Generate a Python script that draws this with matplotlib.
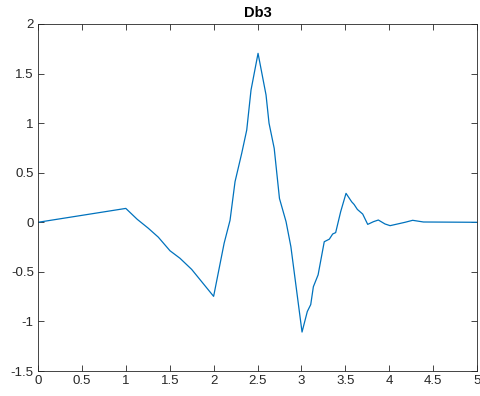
import numpy as np
import matplotlib.pyplot as plt

plt.rcParams['font.family'] = ['Liberation Sans', 'DejaVu Sans']

# db3 wavelet function
x = [0, 1.0, 1.13, 1.256, 1.37, 1.503, 1.617, 1.75, 2.0, 2.12, 2.187, 2.244,
     2.32, 2.377, 2.426, 2.506, 2.597, 2.631, 2.69, 2.75, 2.825, 2.88, 3.007,
     3.067, 3.106, 3.136, 3.19, 3.26, 3.318, 3.356, 3.39, 3.447, 3.508, 3.572,
     3.6, 3.637, 3.698, 3.755, 3.82, 3.876, 3.952, 4.01, 4.18, 4.267, 4.39,
     4.6, 5.0]
y = [0, 0.14, 0.03, -0.06, -0.15, -0.287, -0.363, -0.475, -0.747, -0.21, 0.02,
     0.41, 0.696, 0.93, 1.334, 1.704, 1.284, 1.0, 0.746, 0.24, 0.006, -0.246,
     -1.107, -0.9, -0.83, -0.65, -0.53, -0.196, -0.17, -0.118, -0.104, 0.107,
     0.292, 0.207, 0.18, 0.13, 0.083, -0.021, 0.006, 0.023, -0.017, -0.034,
     0.0, 0.02, 0.003, 0.002, 0.0]

fig = plt.figure(figsize=(4.8, 3.96), dpi=100)
ax = fig.add_axes([0.0792, 0.0631, 0.9146, 0.8763])
ax.plot(x, y, color='#0072BD', lw=0.9)
ax.set_xlim(0, 5)
ax.set_ylim(-1.5, 2)
ax.set_xticks(np.arange(0, 5.01, 0.5))
ax.set_xticklabels(['0', '0.5', '1', '1.5', '2', '2.5', '3', '3.5', '4', '4.5', '5'])
ax.set_yticks(np.arange(-1.5, 2.01, 0.5))
ax.set_yticklabels(['-1.5', '-1', '-0.5', '0', '0.5', '1', '1.5', '2'])
ax.tick_params(direction='in', length=4, width=0.6, top=True, right=True,
               labelsize=9.5, colors='#262626', pad=3)
for s in ax.spines.values():
    s.set_color('#262626')
    s.set_linewidth(0.6)
ax.set_title('Db3', fontsize=10.5, fontweight='bold', color='black', pad=5)
fig.savefig('out.png', dpi=100)
